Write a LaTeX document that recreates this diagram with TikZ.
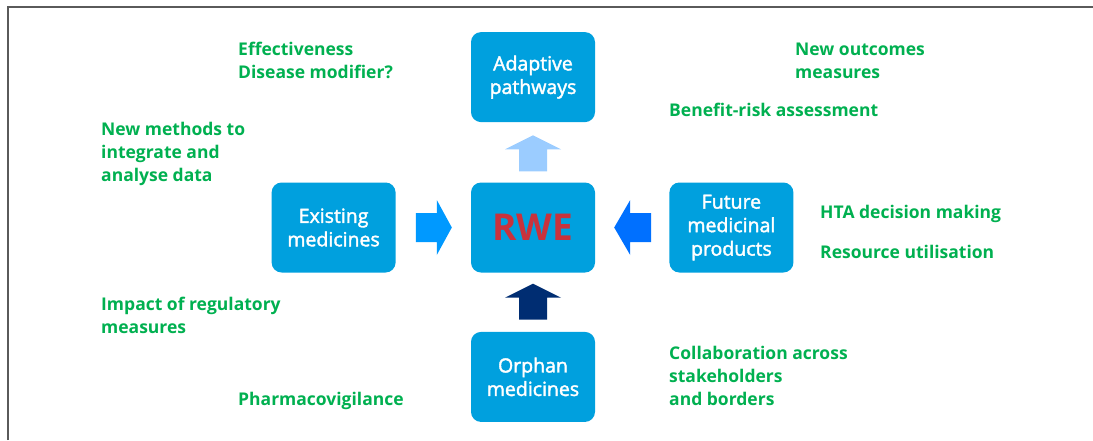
\documentclass[tikz,border=0pt]{standalone}
\usepackage{fontspec}
\setmainfont{Open Sans}
\newfontfamily\boxfont{Open Sans}[FakeBold=2]
\usetikzlibrary{positioning,calc}

\definecolor{boxblue}{RGB}{0,160,222}
\definecolor{rwered}{RGB}{200,50,60}
\definecolor{notegreen}{RGB}{0,176,80}
\definecolor{arrowlight}{RGB}{155,204,255}
\definecolor{arrowmid}{RGB}{0,153,255}
\definecolor{arrowdeep}{RGB}{0,112,255}
\definecolor{arrownavy}{RGB}{0,45,114}
\definecolor{framegray}{RGB}{90,90,90}

\tikzset{
    topic/.style = {fill = boxblue, rounded corners = 10pt, minimum width = 124pt, minimum height = 90pt,
                    text = white, align = center, font = \boxfont\fontsize{19.5}{23.5}\selectfont, inner sep = 2pt},
    note/.style  = {text = notegreen, align = left, font = \fontsize{17.5}{23}\selectfont\bfseries, inner sep = 0pt},
}

\begin{document}
\begin{tikzpicture}[x = 1pt, y = -1pt]
    \useasboundingbox (0,0) rectangle (1093,440);
    \draw[framegray, line width = 1.5pt] (8,440) -- (8,7) -- (1093,7);

    %\draw[help lines, step = 50] (0,0) grid (1093,440);

    \node[topic] (rwe) at (533,227.5) {\normalfont\bfseries\fontsize{37}{40}\selectfont\color{rwered}RWE};
    \node[topic, above = 60pt of rwe] (adaptive) {Adaptive\\pathways};
    \node[topic, left = 75pt of rwe] (existing) {Existing\\medicines};
    \node[topic, right = 74pt of rwe] (future) {Future\\medicinal\\products};
    \node[topic, below = 59pt of rwe] (orphan) {Orphan\\medicines};

    % block arrows
    \fill[arrowlight] ($(rwe.north)+(-14,-11)$) -- ++(0,-22) -- ++(-14,0) -- ++(28,-14) -- ++(28,14) -- ++(-14,0) -- ++(0,22) -- cycle;
    \fill[arrownavy] ($(orphan.north)+(-14,-12)$) -- ++(0,-22) -- ++(-14,0) -- ++(28,-14) -- ++(28,14) -- ++(-14,0) -- ++(0,22) -- cycle;
    \fill[arrowmid] ($(existing.east)+(20,-14.5)$) -- ++(21,0) -- ++(0,-13) -- ++(15,27.5) -- ++(-15,27.5) -- ++(0,-13) -- ++(-21,0) -- cycle;
    \fill[arrowdeep] ($(future.west)+(-18,-14.5)$) -- ++(-21,0) -- ++(0,-13) -- ++(-16,27.5) -- ++(16,27.5) -- ++(0,-13) -- ++(21,0) -- cycle;

    % notes round the boxes
    \node[note, anchor = north west] (effect) at (238,42) {Effectiveness\\Disease modifier?};
    \node[note, anchor = north west] (outcomes) at (795,43) {New outcomes\\measures};
    \node[note, anchor = base west] (benefit) at (669,116) {Benefit-risk assessment};
    \node[note, anchor = north west] (methods) at (101,122) {New methods to\\integrate and\\analyse data};
    \node[note, anchor = base west] (hta) at (820,218) {HTA decision making};
    \node[note, anchor = base west] (resource) at (820,258) {Resource utilisation};
    \node[note, anchor = north west] (impact) at (101,297) {Impact of regulatory\\measures};
    \node[note, anchor = base west] (pharmaco) at (238,405) {Pharmacovigilance};
    \node[note, anchor = north west] (collab) at (669,346) {Collaboration across\\stakeholders\\and borders};
\end{tikzpicture}
\end{document}
